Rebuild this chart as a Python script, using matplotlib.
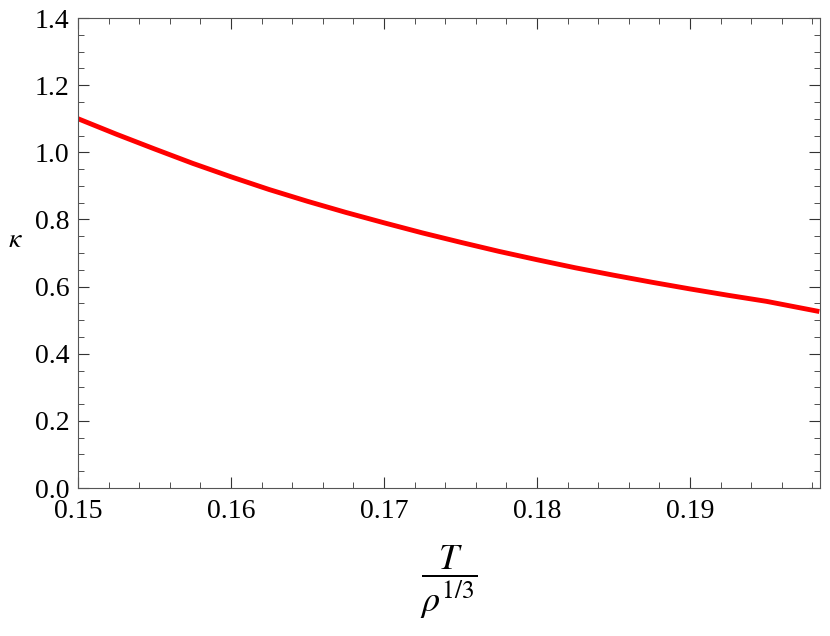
import matplotlib
matplotlib.use("Agg")
import matplotlib.pyplot as plt
from matplotlib.ticker import MultipleLocator

x = [0.150, 0.1525, 0.155, 0.1575, 0.160, 0.1625, 0.165, 0.1675, 0.170, 0.1725, 0.175,
     0.1775, 0.180, 0.1825, 0.185, 0.1875, 0.190, 0.1925, 0.195, 0.1983]
kappa = [1.100, 1.054, 1.010, 0.967, 0.927, 0.889, 0.854, 0.821, 0.790, 0.760, 0.732,
         0.705, 0.680, 0.656, 0.634, 0.613, 0.593, 0.574, 0.556, 0.527]

plt.rcParams['font.family'] = ['Liberation Serif', 'DejaVu Serif']
plt.rcParams['mathtext.fontset'] = 'stix'

fig = plt.figure(figsize=(8.3, 6.36), dpi=100)
ax = fig.add_axes([78/830, 1-488/636, 742/830, 470/636])
ax.plot(x, kappa, color='#ff0000', lw=3.5, solid_joinstyle='round')
ax.set_xlim(0.15, 0.1985)
ax.set_ylim(0, 1.4)
ax.xaxis.set_major_locator(MultipleLocator(0.01))
ax.xaxis.set_minor_locator(MultipleLocator(0.002))
ax.yaxis.set_major_locator(MultipleLocator(0.2))
ax.yaxis.set_minor_locator(MultipleLocator(0.05))
ax.xaxis.set_major_formatter(plt.FuncFormatter(lambda v, p: f"{v:.2f}"))
ax.yaxis.set_major_formatter(plt.FuncFormatter(lambda v, p: f"{v:.1f}"))
ax.tick_params(which='both', direction='in', top=True, right=True, labelsize=20, colors='#333333', labelcolor='black')
ax.tick_params(axis='x', pad=8)
ax.tick_params(axis='y', pad=6)
ax.tick_params(which='major', length=8)
ax.tick_params(which='minor', length=4)
for s in ax.spines.values():
    s.set_color('#555555')
ax.set_xlabel(r'$\dfrac{T}{\rho^{1/3}}$', fontsize=26, labelpad=14)
ax.set_ylabel(r'$\kappa$', fontsize=20, rotation=0, labelpad=14)
fig.savefig('out.png', dpi=100)
